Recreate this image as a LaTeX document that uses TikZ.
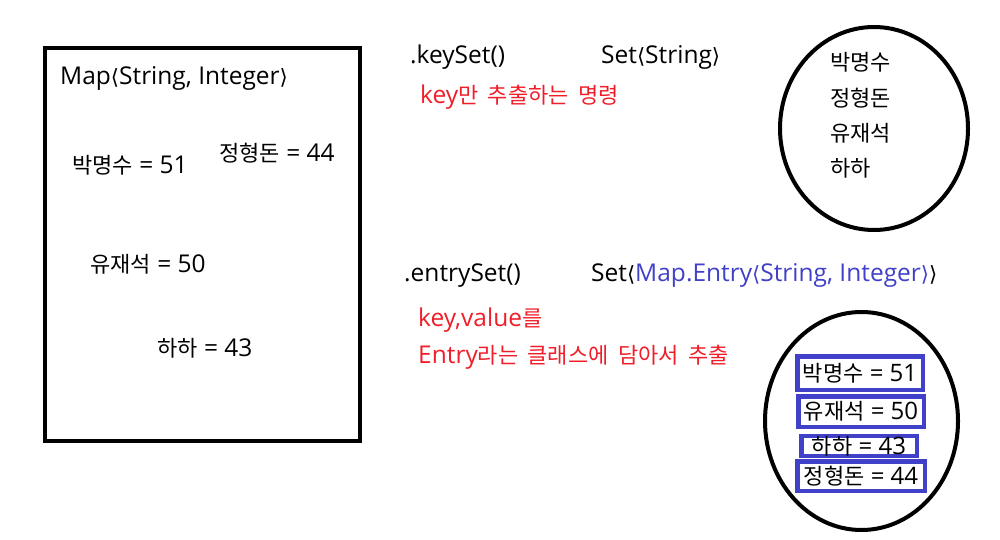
\documentclass[tikz,border=0pt]{standalone}
\usepackage{fontspec}
\setmainfont{Open Sans}
\newfontfamily\kr[WordSpace=1.9]{Noto Sans CJK KR}
\newfontfamily\dv{DejaVu Sans}
\usetikzlibrary{shapes.geometric}
\definecolor{entryblue}{RGB}{64,64,200}
\definecolor{notered}{RGB}{240,30,40}
\newcommand{\hg}[1]{{\kr\fontsize{22}{24}\selectfont #1}}
\newcommand{\langbr}{{\dv\fontsize{21}{24}\selectfont ⟨}}
\newcommand{\rangbr}{{\dv\fontsize{21}{24}\selectfont ⟩}}
\tikzset{
  lbl/.style={inner sep=0pt,anchor=base west,font=\fontsize{24.5}{28}\selectfont},
  redlbl/.style={lbl,text=notered},
  setoval/.style={draw,ellipse,line width=4pt,inner sep=0pt},
  entrybox/.style={draw=entryblue,line width=4.5pt,inner sep=0pt,font=\fontsize{24}{28}\selectfont}
}
\begin{document}
\begin{tikzpicture}[x=1pt,y=-1pt]
  \useasboundingbox (0,0) rectangle (1000,540);
  % the map
  \node[draw,line width=4pt,minimum width=315pt,minimum height=393pt] (map) at (202.5,244.5) {};
  \node[lbl] (mapT) at (60,85) {Map\langbr String, Integer\rangbr};
  \node[lbl] (m1) at (72,174) {\hg{박명수} = 51};
  \node[lbl] (m2) at (219,161) {\hg{정형돈} = 44};
  \node[lbl] (m3) at (90,272) {\hg{유재석} = 50};
  \node[lbl] (m4) at (157,356) {\hg{하하} = 43};
  % keySet
  \node[lbl] (ks) at (410,64) {.keySet()};
  \node[lbl] (ksT) at (601,64) {Set\langbr String\rangbr};
  \node[redlbl] (ksN) at (420,104) {key\hg{만 추출하는 명령}};
  \node[setoval,minimum width=188pt,minimum height=203pt] (keys) at (874,128.5) {};
  \node[lbl] (k1) at (830,71) {\hg{박명수}};
  \node[lbl] (k2) at (830,107) {\hg{정형돈}};
  \node[lbl] (k3) at (830,142) {\hg{유재석}};
  \node[lbl] (k4) at (830,177) {\hg{하하}};
  % entrySet
  \node[lbl] (es) at (404,281) {.entrySet()};
  \node[lbl] (esT) at (591,281) {Set\langbr\textcolor{entryblue}{Map.Entry\langbr String, Integer\rangbr}\rangbr};
  \node[redlbl] (esN1) at (418,326) {key,value\hg{를}};
  \node[redlbl] (esN2) at (418,363) {Entry\hg{라는 클래스에 담아서 추출}};
  \node[setoval,minimum width=193pt,minimum height=218pt] (entries) at (861.5,421) {};
  \node[entrybox,minimum width=125.5pt,minimum height=33.5pt] (e1) at (860,373) {\hg{박명수} = 51};
  \node[entrybox,minimum width=125.5pt,minimum height=30.5pt] (e2) at (861,411.5) {\hg{유재석} = 50};
  \node[entrybox,minimum width=115.5pt,minimum height=19.5pt] (e3) at (859,446) {\hg{하하} = 43};
  \node[entrybox,minimum width=127.5pt,minimum height=29.5pt] (e4) at (861,476) {\hg{정형돈} = 44};
\end{tikzpicture}
\end{document}
